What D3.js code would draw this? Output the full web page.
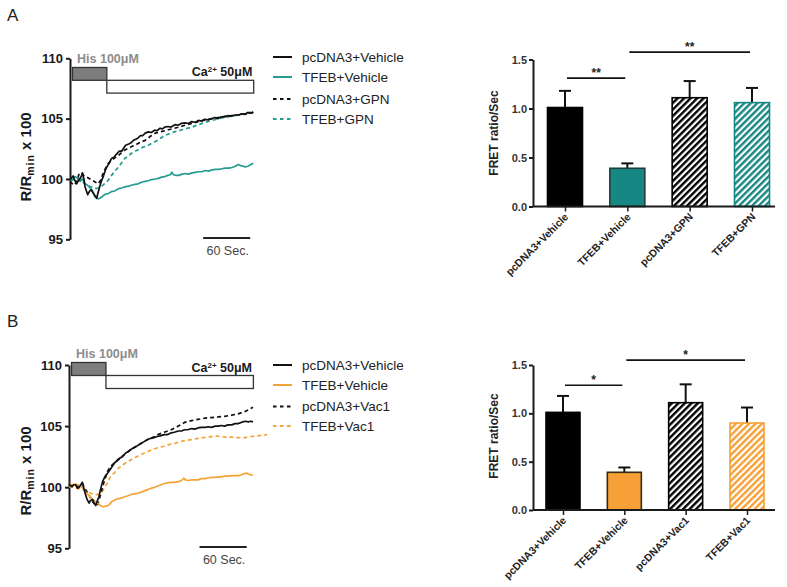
<!DOCTYPE html>
<html><head><meta charset="utf-8">
<script src="https://cdn.jsdelivr.net/npm/d3@7"></script>
<style>body{margin:0;background:#fff}svg{display:block}</style>
</head><body><svg id="c" width="787" height="587"></svg>
<script>
// ---------------- DATA ----------------
const seriesNamesA = ["pcDNA3+Vehicle","TFEB+Vehicle","pcDNA3+GPN","TFEB+GPN"];
const seriesNamesB = ["pcDNA3+Vehicle","TFEB+Vehicle","pcDNA3+Vac1","TFEB+Vac1"];
const traceTicks = [95,100,105,110];
const barTicks = [0,0.5,1.0,1.5];
const hisEndSec = 47;

// traces: [time (s), R/Rmin x 100]
const traceA_pcDNA3_Vehicle = [[0,99.9],[2,100.1],[4,100.25],[6,99.9],[8.5,99.6],[10,99.8],[13,100.05],[15,100.3],[16,100.5],[18,99.9],[19,99.4],[21,99.0],[22.6,98.7],[25,99.0],[27,99.1],[29,98.9],[31,98.7],[33,98.5],[34,98.4],[36,98.9],[38,99.4],[40,99.8],[43,100.3],[45,100.7],[47,101.0],[50,101.3],[53,101.7],[56,101.8],[60,102.1],[63,102.3],[66,102.3],[68,102.5],[71,102.8],[75,102.9],[78,103.0],[81,103.2],[84,103.3],[87,103.4],[90,103.6],[93,103.6],[96,103.8],[100,103.9],[104,103.85],[108,104.05],[111,104.0],[115,104.2],[118,104.15],[121,104.3],[125,104.35],[129,104.3],[134,104.5],[138,104.45],[142,104.6],[147,104.65],[151,104.6],[155,104.75],[160,104.7],[164,104.85],[168,104.8],[172,104.95],[176,104.9],[181,105.0],[185,105.1],[189,105.0],[193,105.15],[198,105.15],[202,105.25],[206,105.2],[210,105.3],[215,105.3],[219,105.4],[223,105.35],[227,105.5],[230,105.45],[232,105.5],[234,105.55]];
const traceA_TFEB_Vehicle = [[0,100.05],[3,99.9],[6,100.2],[9,100.1],[13,99.8],[16,100.0],[19,99.6],[22,99.5],[25,99.3],[28,99.1],[30,98.8],[32,98.5],[34,98.45],[36,98.35],[38,98.4],[40.5,98.5],[44,98.7],[49,98.8],[53,98.95],[57,99.0],[62,99.2],[66,99.25],[70,99.35],[75,99.4],[79,99.5],[83,99.55],[87,99.6],[92,99.75],[96,99.8],[100,99.85],[104,99.95],[109,100.0],[113,100.05],[117,100.15],[121,100.2],[125,100.3],[128,100.35],[130,100.55],[132,100.35],[136,100.3],[139,100.3],[143,100.4],[147,100.45],[151,100.4],[156,100.5],[160,100.55],[164,100.6],[168,100.6],[173,100.7],[177,100.65],[181,100.75],[186,100.8],[190,100.8],[194,100.85],[198,100.9],[203,100.9],[207,100.95],[211,101.05],[215,101.2],[218,101.1],[221,101.05],[224,101.0],[227,101.05],[230,101.15],[234,101.3]];
const traceA_pcDNA3_GPN = [[0,99.8],[3,99.6],[6,99.5],[9,99.9],[12,100.5],[15,100.45],[19,100.2],[23,100.1],[28,99.9],[32,99.75],[36,99.6],[39,99.9],[43,100.6],[46,100.95],[49,101.3],[53,101.55],[58,101.8],[62,101.95],[66,102.2],[70,102.4],[75,102.55],[79,102.7],[83,102.8],[87,102.95],[92,103.1],[96,103.2],[100,103.4],[104,103.6],[109,103.8],[115,103.9],[121,104.0],[127,104.1],[133,104.2],[139,104.3],[147,104.45],[156,104.6],[164,104.75],[173,104.9],[181,105.0],[190,105.1],[198,105.2],[207,105.25],[215,105.3],[224,105.4],[234,105.5]];
const traceA_TFEB_GPN = [[0,99.9],[6,100.0],[11,100.0],[15,99.8],[19,99.6],[25,99.4],[32,99.2],[36,99.25],[40.5,99.4],[45,99.65],[49,99.9],[53,100.3],[58,100.7],[62,101.0],[66,101.35],[70,101.7],[75,101.95],[79,102.15],[83,102.3],[88,102.45],[92,102.6],[96,102.7],[100,102.8],[104,102.95],[109,103.1],[115,103.35],[121,103.6],[127,103.75],[133,103.9],[139,104.0],[147,104.15],[156,104.3],[164,104.5],[173,104.7],[181,104.85],[190,105.0],[198,105.1],[207,105.2],[215,105.3],[224,105.45],[232,105.55]];

const traceB_pcDNA3_Vehicle = [[0,100.3],[2,100.1],[4,100.05],[6,100.2],[8.5,100.2],[11,99.9],[13,100.0],[15,100.2],[17,100.4],[19,99.9],[21,99.4],[23,99.0],[25.6,98.7],[27,98.9],[30,99.0],[32,98.7],[34,98.5],[36,98.9],[38,99.2],[40,99.8],[43,100.5],[46,100.9],[49,101.15],[53,101.5],[58,102.0],[62,102.2],[65,102.4],[68,102.5],[72,102.8],[75,102.9],[79,103.1],[83,103.25],[87,103.4],[92,103.6],[96,103.75],[100,103.9],[104,104.0],[108,104.05],[112,104.15],[116,104.2],[121,104.3],[125,104.3],[130,104.45],[134,104.5],[139,104.6],[143,104.6],[147,104.7],[151,104.7],[156,104.8],[160,104.75],[164,104.85],[168,104.9],[173,104.9],[177,104.95],[181,104.9],[186,105.0],[190,105.0],[194,105.05],[198,105.0],[202,105.1],[207,105.1],[211,105.2],[215,105.2],[219,105.3],[224,105.4],[228,105.35],[231,105.4],[234,105.35]];
const traceB_TFEB_Vehicle = [[0,100.3],[4,100.2],[8,100.25],[11,100.2],[15,100.1],[19,99.8],[22,99.5],[26,99.3],[28,99.1],[32,98.9],[36,98.7],[40,98.5],[43,98.4],[47,98.45],[51,98.55],[54,98.8],[58,98.95],[62,99.05],[66,99.1],[70,99.2],[75,99.3],[79,99.4],[83,99.45],[87,99.5],[92,99.6],[96,99.7],[100,99.8],[104,99.9],[109,100.0],[113,100.1],[117,100.2],[121,100.3],[125,100.35],[130,100.4],[134,100.4],[139,100.45],[143,100.55],[146,100.75],[148,100.6],[152,100.55],[156,100.6],[160,100.6],[164,100.6],[168,100.7],[173,100.7],[177,100.75],[181,100.8],[186,100.8],[190,100.85],[194,100.85],[198,100.9],[203,100.9],[207,100.95],[211,100.95],[215,100.95],[219,101.0],[222,101.1],[226,101.15],[229,101.05],[232,101.0],[234,101.0]];
const traceB_pcDNA3_Vac1 = [[0,100.2],[5,100.1],[10,100.05],[15,100.15],[17,100.3],[20,99.9],[24,99.5],[27,99.2],[30,98.8],[33,98.6],[36,98.5],[38,98.9],[40.5,99.5],[44,100.3],[49,101.3],[53,101.7],[58,102.0],[62,102.25],[66,102.45],[70,102.65],[75,102.9],[79,103.1],[83,103.25],[87,103.4],[92,103.6],[96,103.75],[100,103.9],[104,104.0],[109,104.15],[113,104.3],[121,104.5],[130,104.7],[139,105.0],[147,105.3],[156,105.45],[164,105.55],[173,105.65],[181,105.7],[190,105.75],[198,105.8],[207,105.9],[215,106.0],[224,106.2],[230,106.4],[234,106.55]];
const traceB_TFEB_Vac1 = [[0,100.05],[6,100.0],[11,99.9],[17,99.8],[23,99.65],[28,99.5],[32,99.4],[36,99.4],[40.5,99.5],[45,99.9],[49,100.4],[53,100.9],[58,101.2],[62,101.5],[66,101.7],[70,101.9],[75,102.1],[79,102.25],[83,102.4],[88,102.55],[92,102.7],[96,102.8],[100,102.9],[107,103.1],[114,103.25],[121,103.35],[128,103.5],[135,103.6],[143,103.75],[150,103.85],[157,103.9],[164,104.0],[171,104.05],[178,104.1],[185,104.2],[192,104.15],[200,104.1],[207,104.1],[215,104.05],[224,104.05],[232,104.15],[239,104.2],[246,104.25],[252,104.3]];

// bar charts: mean FRET ratio/Sec and upper error (SEM)
const barValuesA = [1.01, 0.39, 1.11, 1.06];
const barErrorsA = [0.17, 0.05, 0.17, 0.15];
const barValuesB = [1.01, 0.39, 1.11, 0.90];
const barErrorsB = [0.17, 0.05, 0.19, 0.16];
const sigPairsA = [[0,1],[1,3]];
const sigLevelsA = [1.31, 1.575];
const sigLabelsA = ["**","**"];
const sigPairsB = [[0,1],[1,3]];
const sigLevelsB = [1.29, 1.55];
const sigLabelsB = ["*","*"];

// ---------------- DRAW ----------------
const FONT = '"Liberation Sans", Arial, Helvetica, sans-serif';
const INK = "#1a1a1a";
const TEAL_LINE = "#249c90", TEAL_BAR = "#168782";
const ORANGE_LINE = "#f5a338", ORANGE_BAR = "#f6a037";
const svg = d3.select("#c").attr("font-family", FONT);
const defs = svg.append("defs");

function makeHatch(id, color){
  const p = defs.append("pattern").attr("id", id).attr("patternUnits","userSpaceOnUse")
    .attr("width",4.6).attr("height",4.6).attr("patternTransform","rotate(45)");
  p.append("rect").attr("width",4.6).attr("height",4.6).attr("fill","#fff");
  p.append("rect").attr("width",2.4).attr("height",4.6).attr("fill",color);
}
makeHatch("hBlack", "#000");
makeHatch("hTeal", TEAL_BAR);
makeHatch("hOrange", ORANGE_BAR);

function tracePanel(o){
  const x = d3.scaleLinear().domain([0,234]).range([o.x0, o.x1]);
  const y = d3.scaleLinear().domain([95,110]).range([o.y95, o.y110]);
  const g = svg.append("g");
  g.append("text").attr("x",7).attr("y",o.letterY).attr("font-size",17).attr("fill","#222").text(o.letter);
  const ax = g.append("g").attr("transform",`translate(${o.x0},0)`)
    .call(d3.axisLeft(y).tickValues(traceTicks).tickSize(4).tickSizeOuter(0).tickPadding(3));
  ax.attr("font-family", FONT).attr("font-size",13);
  ax.select(".domain").attr("stroke",INK).attr("stroke-width",2);
  ax.selectAll(".tick line").attr("stroke",INK).attr("stroke-width",2);
  ax.selectAll(".tick text").attr("font-weight","bold").attr("fill",INK);
  const yl = g.append("text").attr("transform",`translate(31,${o.labelY}) rotate(-90)`)
    .attr("text-anchor","middle").attr("font-size",15).attr("font-weight","bold").attr("fill",INK);
  yl.append("tspan").text("R/R");
  yl.append("tspan").attr("font-size",10.5).attr("dy",3).attr("letter-spacing",1).text("min");
  yl.append("tspan").attr("dy",-3).text(" x 100");
  g.append("rect").attr("x",o.x0+2.5).attr("y",o.hisY).attr("width",x(hisEndSec)-o.x0-2.5).attr("height",o.barH)
    .attr("fill","#7d7d7d").attr("stroke","#333").attr("stroke-width",1.3);
  g.append("rect").attr("x",x(hisEndSec)).attr("y",o.hisY+o.barH).attr("width",x(234.5)-x(hisEndSec)).attr("height",o.barH)
    .attr("fill","#fff").attr("stroke","#333").attr("stroke-width",1.3);
  g.append("text").attr("x",o.x0+7).attr("y",o.hisY-5).attr("font-size",12.5).attr("font-weight","bold")
    .attr("fill","#8c8c8c").text("His 100μM");
  const ca = g.append("text").attr("x",x(234)-1).attr("y",o.hisY+o.barH-4).attr("text-anchor","end")
    .attr("font-size",12.5).attr("font-weight","bold").attr("fill",INK);
  ca.append("tspan").text("Ca");
  ca.append("tspan").attr("font-size",8).attr("dy",-4).text("2+");
  ca.append("tspan").attr("dy",4).text(" 50μM");
  const line = d3.line().x(d=>x(d[0])).y(d=>y(d[1]));
  o.series.slice().reverse().forEach(s=>{
    g.append("path").datum(s.data).attr("d",line).attr("fill","none").attr("stroke",s.color)
      .attr("stroke-width",1.7).attr("stroke-linejoin","round")
      .attr("stroke-dasharray", s.dashed ? "4,3" : null);
  });
  g.append("line").attr("x1",x(o.sb0)).attr("x2",x(o.sb0+60)).attr("y1",o.sbY).attr("y2",o.sbY)
    .attr("stroke","#222").attr("stroke-width",2);
  g.append("text").attr("x",(x(o.sb0)+x(o.sb0+60))/2+1).attr("y",o.sbY+17).attr("text-anchor","middle")
    .attr("font-size",12.5).attr("fill","#444").text("60 Sec.");
  o.series.forEach((s,i)=>{
    const ly = o.legY[i];
    g.append("line").attr("x1",273).attr("x2",292).attr("y1",ly).attr("y2",ly).attr("stroke",s.color)
      .attr("stroke-width",2).attr("stroke-dasharray", s.dashed ? "3.5,3.5" : null);
    g.append("text").attr("x",302).attr("y",ly).attr("dy","0.35em").attr("font-size",13.5)
      .attr("fill","#222").text(s.name);
  });
}

function barPanel(o){
  const y = d3.scaleLinear().domain([0,1.5]).range([o.y0, o.y15]);
  const x = d3.scalePoint().domain(o.cats).range([o.c0, o.c1]);
  const g = svg.append("g");
  o.cats.forEach((c,i)=>{
    const cx = x(c), v = o.values[i], e = o.errors[i];
    g.append("line").attr("x1",cx).attr("x2",cx).attr("y1",y(v)).attr("y2",y(v+e)).attr("stroke","#111").attr("stroke-width",2);
    g.append("line").attr("x1",cx-6).attr("x2",cx+6).attr("y1",y(v+e)).attr("y2",y(v+e)).attr("stroke","#111").attr("stroke-width",2);
    g.append("rect").attr("x",cx-o.bw/2).attr("y",y(v)).attr("width",o.bw).attr("height",y(0)-y(v))
      .attr("fill",o.fills[i]).attr("stroke",o.strokes[i]).attr("stroke-width",1.6);
  });
  const ax = g.append("g").attr("transform",`translate(${o.ax},0)`)
    .call(d3.axisLeft(y).tickValues(barTicks).tickFormat(d3.format(".1f")).tickSize(4).tickSizeOuter(0).tickPadding(2));
  ax.attr("font-family", FONT).attr("font-size",11);
  ax.select(".domain").attr("stroke",INK).attr("stroke-width",2);
  ax.selectAll(".tick line").attr("stroke",INK).attr("stroke-width",2);
  ax.selectAll(".tick text").attr("font-weight","bold").attr("fill","#333");
  g.append("line").attr("x1",o.ax).attr("x2",775).attr("y1",y(0)).attr("y2",y(0)).attr("stroke",INK).attr("stroke-width",2);
  const xa = g.append("g").attr("transform",`translate(0,${y(0)})`)
    .call(d3.axisBottom(x).tickSize(5).tickFormat(""));
  xa.select(".domain").remove();
  xa.selectAll(".tick line").attr("stroke",INK).attr("stroke-width",1.5);
  o.cats.forEach(c=>{
    g.append("text").attr("transform",`translate(${x(c)+4},${y(0)+11}) rotate(-45)`)
      .attr("text-anchor","end").attr("font-size",10.5).attr("font-weight","bold").attr("fill","#222").text(c);
  });
  g.append("text").attr("transform",`translate(498,${o.labelY}) rotate(-90)`).attr("text-anchor","middle")
    .attr("font-size",12).attr("font-weight","bold").attr("fill","#222").text("FRET ratio/Sec");
  o.sigPairs.forEach((p,i)=>{
    const ly = y(o.sigLevels[i]);
    const xa1 = x(o.cats[p[0]]), xa2 = x(o.cats[p[1]]);
    g.append("line").attr("x1",xa1+2).attr("x2",xa2-2).attr("y1",ly).attr("y2",ly).attr("stroke","#111").attr("stroke-width",1.6);
    g.append("text").attr("x",(xa1+xa2)/2).attr("y",ly-1.5).attr("text-anchor","middle")
      .attr("font-size",12).attr("font-weight","bold").attr("fill","#222").text(o.sigLabels[i]);
  });
}

tracePanel({letter:"A", letterY:21, x0:70, x1:253.3, y95:239.3, y110:58.3, labelY:157,
  hisY:67.5, barH:12.8, sb0:170, sbY:238,
  legY:[57,77,99,119],
  series:[
    {name:seriesNamesA[0], data:traceA_pcDNA3_Vehicle, color:"#111", dashed:false},
    {name:seriesNamesA[1], data:traceA_TFEB_Vehicle, color:TEAL_LINE, dashed:false},
    {name:seriesNamesA[2], data:traceA_pcDNA3_GPN, color:"#111", dashed:true},
    {name:seriesNamesA[3], data:traceA_TFEB_GPN, color:TEAL_LINE, dashed:true}]});

tracePanel({letter:"B", letterY:327, x0:69, x1:253, y95:548.3, y110:365, labelY:471,
  hisY:362.5, barH:13, sb0:166, sbY:547,
  legY:[365,385,406.5,426],
  series:[
    {name:seriesNamesB[0], data:traceB_pcDNA3_Vehicle, color:"#111", dashed:false},
    {name:seriesNamesB[1], data:traceB_TFEB_Vehicle, color:ORANGE_LINE, dashed:false},
    {name:seriesNamesB[2], data:traceB_pcDNA3_Vac1, color:"#111", dashed:true},
    {name:seriesNamesB[3], data:traceB_TFEB_Vac1, color:ORANGE_LINE, dashed:true}]});

barPanel({cats:seriesNamesA, values:barValuesA, errors:barErrorsA, y0:206.5, y15:59.5, c0:565, c1:752, bw:35, ax:533,
  labelY:133, fills:["#000",TEAL_BAR,"url(#hBlack)","url(#hTeal)"], strokes:["#000","#1e3f3d","#000",TEAL_BAR],
  sigPairs:sigPairsA, sigLevels:sigLevelsA, sigLabels:sigLabelsA});

barPanel({cats:seriesNamesB, values:barValuesB, errors:barErrorsB, y0:510, y15:365, c0:563, c1:747, bw:34, ax:533,
  labelY:436, fills:["#000",ORANGE_BAR,"url(#hBlack)","url(#hOrange)"], strokes:["#000","#3a2a12","#000",ORANGE_BAR],
  sigPairs:sigPairsB, sigLevels:sigLevelsB, sigLabels:sigLabelsB});
</script></body></html>
